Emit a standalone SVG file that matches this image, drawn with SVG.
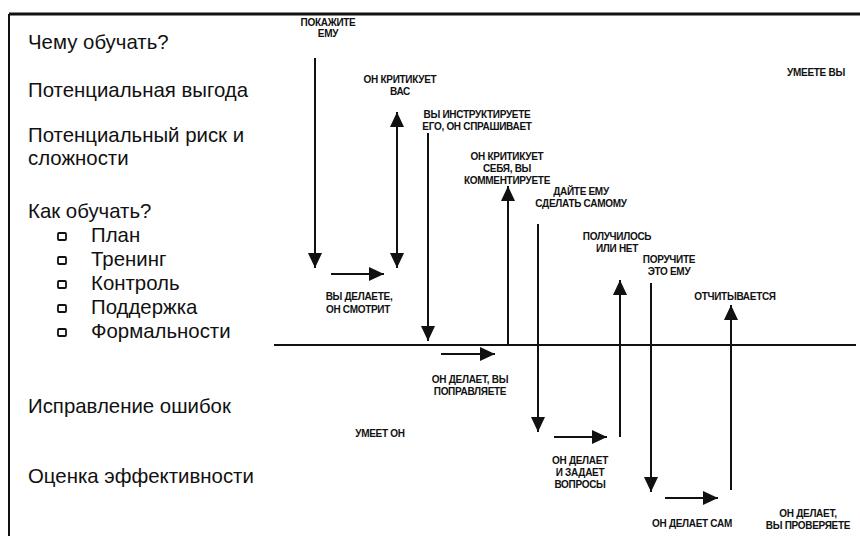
<svg xmlns="http://www.w3.org/2000/svg" width="860" height="536" viewBox="0 0 860 536">
<style>
.big{font-family:"Liberation Sans",Arial,sans-serif;font-size:20.4px;fill:#111}
.sm{font-family:"Liberation Sans",Arial,sans-serif;font-size:10px;font-weight:bold;fill:#111;text-anchor:middle;letter-spacing:-0.3px}
.ln{stroke:#111;stroke-width:2;fill:none}
.bx{stroke:#111;stroke-width:1.8;fill:#fff}
</style>
<defs>
<marker id="ah" viewBox="0 0 15 14" refX="15" refY="7" markerWidth="15" markerHeight="14" orient="auto-start-reverse" markerUnits="userSpaceOnUse">
<path d="M0,0 L15,7 L0,14 z" fill="#111"/>
</marker>
</defs>
<rect width="860" height="536" fill="#fff"/>
<g id="frame">
<path d="M9,14 H860" stroke="#111" stroke-width="3"/>
<path d="M9,14 V536" stroke="#111" stroke-width="2"/>
<path d="M274,345 H856" stroke="#111" stroke-width="1.8"/>
</g>
<g id="left-labels">
<text class="big" x="28" y="49">Чему обучать?</text>
<text class="big" x="28" y="97">Потенциальная выгода</text>
<text class="big" x="28" y="142">Потенциальный риск и</text>
<text class="big" x="28" y="165">сложности</text>
<text class="big" x="28" y="218">Как обучать?</text>
<rect class="bx" x="58" y="233" width="8" height="7" rx="1"/>
<text class="big" x="91" y="242">План</text>
<rect class="bx" x="58" y="257" width="8" height="7" rx="1"/>
<text class="big" x="91" y="266">Тренинг</text>
<rect class="bx" x="58" y="281" width="8" height="7" rx="1"/>
<text class="big" x="91" y="290">Контроль</text>
<rect class="bx" x="58" y="305" width="8" height="7" rx="1"/>
<text class="big" x="91" y="314">Поддержка</text>
<rect class="bx" x="58" y="329" width="8" height="7" rx="1"/>
<text class="big" x="91" y="338">Формальности</text>
<text class="big" x="28" y="413">Исправление ошибок</text>
<text class="big" x="28" y="483">Оценка эффективности</text>
</g>
<g id="connectors">
<path class="ln" d="M315,58 V268" marker-end="url(#ah)"/>
<path class="ln" d="M397,112 V268" marker-start="url(#ah)" marker-end="url(#ah)"/>
<path class="ln" d="M428,133 V341" marker-end="url(#ah)"/>
<path class="ln" d="M508,344 V186" marker-end="url(#ah)"/>
<path class="ln" d="M538,224 V432" marker-end="url(#ah)"/>
<path class="ln" d="M620,437 V280" marker-end="url(#ah)"/>
<path class="ln" d="M651,283 V492" marker-end="url(#ah)"/>
<path class="ln" d="M731,490 V305" marker-end="url(#ah)"/>
<path class="ln" d="M331,274 H384" marker-end="url(#ah)"/>
<path class="ln" d="M441,354 H495" marker-end="url(#ah)"/>
<path class="ln" d="M554,437 H607" marker-end="url(#ah)"/>
<path class="ln" d="M665,498 H718" marker-end="url(#ah)"/>
</g>
<g id="step-labels">
<text class="sm" x="328" y="26">ПОКАЖИТЕ</text>
<text class="sm" x="328" y="37">ЕМУ</text>
<text class="sm" x="400" y="83">ОН КРИТИКУЕТ</text>
<text class="sm" x="400" y="95">ВАС</text>
<text class="sm" x="477" y="118">ВЫ ИНСТРУКТИРУЕТЕ</text>
<text class="sm" x="477" y="130">ЕГО, ОН СПРАШИВАЕТ</text>
<text class="sm" x="507" y="160">ОН КРИТИКУЕТ</text>
<text class="sm" x="507" y="172">СЕБЯ, ВЫ</text>
<text class="sm" x="507" y="184">КОММЕНТИРУЕТЕ</text>
<text class="sm" x="581" y="195">ДАЙТЕ ЕМУ</text>
<text class="sm" x="581" y="207">СДЕЛАТЬ САМОМУ</text>
<text class="sm" x="617" y="240">ПОЛУЧИЛОСЬ</text>
<text class="sm" x="617" y="252">ИЛИ НЕТ</text>
<text class="sm" x="669" y="263">ПОРУЧИТЕ</text>
<text class="sm" x="669" y="275">ЭТО ЕМУ</text>
<text class="sm" x="735" y="300">ОТЧИТЫВАЕТСЯ</text>
<text class="sm" x="816" y="76">УМЕЕТЕ ВЫ</text>
<text class="sm" x="359" y="300">ВЫ ДЕЛАЕТЕ,</text>
<text class="sm" x="358" y="313">ОН СМОТРИТ</text>
<text class="sm" x="470" y="383">ОН ДЕЛАЕТ, ВЫ</text>
<text class="sm" x="470" y="395">ПОПРАВЛЯЕТЕ</text>
<text class="sm" x="380" y="437">УМЕЕТ ОН</text>
<text class="sm" x="580" y="464">ОН ДЕЛАЕТ</text>
<text class="sm" x="580" y="476">И ЗАДАЕТ</text>
<text class="sm" x="580" y="488">ВОПРОСЫ</text>
<text class="sm" x="692" y="527">ОН ДЕЛАЕТ САМ</text>
<text class="sm" x="808" y="517">ОН ДЕЛАЕТ,</text>
<text class="sm" x="808" y="529">ВЫ ПРОВЕРЯЕТЕ</text>
</g>
</svg>
